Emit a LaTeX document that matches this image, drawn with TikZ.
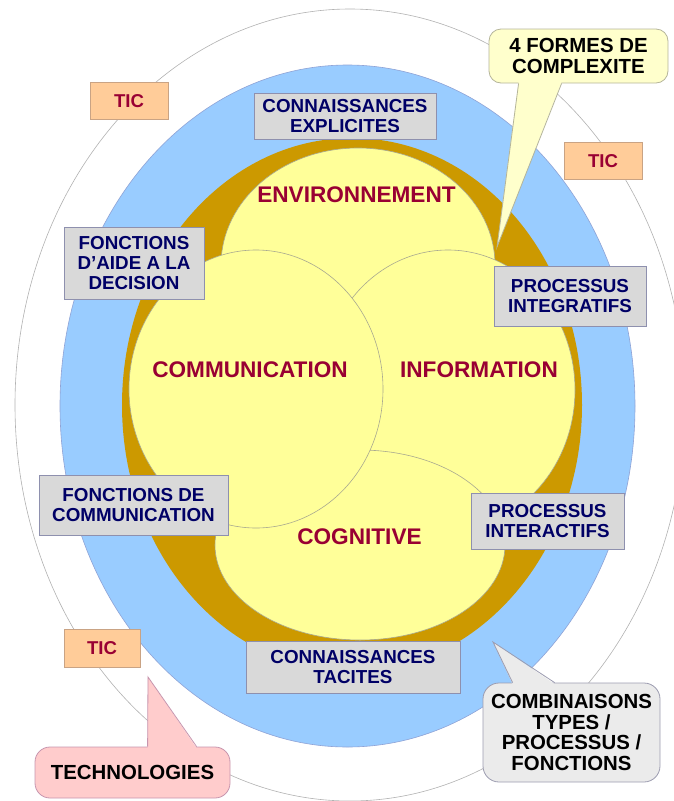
\documentclass[tikz,border=0pt]{standalone}
\usepackage{fontspec}
\setmainfont{Liberation Sans}
\usetikzlibrary{positioning,shapes}

\definecolor{ringBlue}{HTML}{99CCFF}
\definecolor{ringBlueLine}{HTML}{8FA3D6}
\definecolor{ringGold}{HTML}{CC9900}
\definecolor{zoneYellow}{HTML}{FFFF99}
\definecolor{zoneLine}{HTML}{A8A890}
\definecolor{boxGray}{HTML}{D9D9D9}
\definecolor{boxLine}{HTML}{8E90AE}
\definecolor{ticFill}{HTML}{FFCC99}
\definecolor{ticLine}{HTML}{C9A384}
\definecolor{labelRed}{HTML}{990033}
\definecolor{textNavy}{HTML}{000066}
\definecolor{noteYellow}{HTML}{FFFFCC}
\definecolor{noteYellowLine}{HTML}{B5B59A}
\definecolor{noteGray}{HTML}{EBEBEB}
\definecolor{noteGrayLine}{HTML}{9C9CB0}
\definecolor{notePink}{HTML}{FFCCCC}
\definecolor{notePinkLine}{HTML}{C795AE}

\tikzset {
    style Box/.style={
        top color=boxGray,
        bottom color=boxGray,
        draw=boxLine,
        line width=0.8pt,
        rectangle, % Set the shape as a rectangle
        inner sep=0pt,
        text=textNavy,
        font=\bfseries\fontsize{18.8}{19.6}\selectfont,
        align=center,
    },
    style TIC/.style={
        top color=ticFill,
        bottom color=ticFill,
        draw=ticLine,
        line width=0.8pt,
        rectangle, % Set the shape as a rectangle
        inner sep=0pt,
        text=labelRed,
        font=\bfseries\fontsize{18.6}{19.6}\selectfont,
        minimum width=78pt,
        minimum height=37pt,
        align=center,
    },
    style Label/.style={
        text=labelRed,
        font=\bfseries\fontsize{22.6}{24}\selectfont,
        inner sep=0pt,
    },
    style Note/.style={
        rectangle, % Set the shape as a rectangle
        line width=0.8pt,
        inner sep=0pt,
        text=black,
        font=\bfseries\fontsize{20.4}{20.4}\selectfont,
        align=center,
    },
    style Zone/.style={
        fill=zoneYellow,
        draw=zoneLine,
        line width=0.6pt,
    },
}

\begin{document}
\begin{tikzpicture}[x=1pt, y=-1pt]
        \useasboundingbox (0,0) rectangle (674,801);

        % rings
        \draw[fill=white, draw=gray!60, line width=0.6pt] (350,405) ellipse [x radius=335, y radius=396];
        \draw[fill=ringBlue, draw=ringBlueLine, line width=0.6pt] (347.5,406) ellipse [x radius=287.5, y radius=341];
        \fill[ringGold] (352,405) ellipse [x radius=230, y radius=267];

        % four zones
        \draw[style Zone] (358,265) ellipse [x radius=137, y radius=117];
        \draw[style Zone] (448,390) ellipse [x radius=127, y radius=140];
        \draw[style Zone] (360,545) ellipse [x radius=145, y radius=95];
        \draw[style Zone] (256,389) ellipse [x radius=127, y radius=139];

        \node[style Label] at (356.5,195) (environnement) {ENVIRONNEMENT};
        \node[style Label] at (250,370) (communication) {COMMUNICATION};
        \node[style Label] at (479,370) (information) {INFORMATION};
        \node[style Label] at (359.5,537) (cognitive) {COGNITIVE};

        % gray boxes
        \node[style Box, minimum width=182pt, minimum height=46pt] at (345,116) (connExplicites) {CONNAISSANCES\\EXPLICITES};
        \node[style Box, minimum width=140pt, minimum height=72pt] at (134,263) (fonctAide) {FONCTIONS\\D’AIDE A LA\\DECISION};
        \node[style Box, minimum width=152pt, minimum height=60pt] at (570,296) (procIntegratifs) {PROCESSUS\\INTEGRATIFS};
        \node[style Box, minimum width=189pt, minimum height=60pt] at (133.5,505) (fonctComm) {FONCTIONS DE\\COMMUNICATION};
        \node[style Box, minimum width=153pt, minimum height=56pt] at (547.5,521) (procInteractifs) {PROCESSUS\\INTERACTIFS};
        \node[style Box, minimum width=214pt, minimum height=52pt] at (353,667) (connTacites) {CONNAISSANCES\\TACITES};

        \node[style TIC] at (129,101) (ticA) {TIC};
        \node[style TIC] at (603,161) (ticB) {TIC};
        \node[style TIC, minimum width=76pt, minimum height=38pt] at (102,648) (ticC) {TIC};

        % callouts
        \coordinate (tipComplexite) at (497,247);
        \coordinate (tipCombinaisons) at (493,642);
        \coordinate (tipTechnologies) at (148,677);

        \node[style Note, fill=noteYellow, draw=noteYellowLine, rounded corners=12pt,
              minimum width=179pt, minimum height=54pt] at (578.5,56) (complexite) {4 FORMES DE\\COMPLEXITE};
        \fill[noteYellow] ([xshift=30pt, yshift=1.5pt]complexite.south west) -- (tipComplexite) -- ([xshift=73pt, yshift=1.5pt]complexite.south west) -- cycle;
        \draw[noteYellowLine, line width=0.8pt] ([xshift=30pt]complexite.south west) -- (tipComplexite) -- ([xshift=73pt]complexite.south west);

        \node[style Note, fill=noteGray, draw=noteGrayLine, rounded corners=16pt,
              minimum width=177pt, minimum height=99pt] at (571.5,732.5) (combinaisons) {COMBINAISONS\\TYPES /\\PROCESSUS /\\FONCTIONS};
        \fill[noteGray] ([xshift=30pt, yshift=-1.5pt]combinaisons.north west) -- (tipCombinaisons) -- ([xshift=72pt, yshift=-1.5pt]combinaisons.north west) -- cycle;
        \draw[noteGrayLine, line width=0.8pt] ([xshift=30pt]combinaisons.north west) -- (tipCombinaisons) -- ([xshift=72pt]combinaisons.north west);

        \node[style Note, fill=notePink, draw=notePinkLine, rounded corners=15pt,
              minimum width=195pt, minimum height=51pt] at (132.5,772.5) (technologies) {TECHNOLOGIES};
        \fill[notePink] ([xshift=113pt, yshift=-1.5pt]technologies.north west) -- (tipTechnologies) -- ([xshift=162pt, yshift=-1.5pt]technologies.north west) -- cycle;
        \draw[notePinkLine, line width=0.8pt] ([xshift=113pt]technologies.north west) -- (tipTechnologies) -- ([xshift=162pt]technologies.north west);
\end{tikzpicture}
\end{document}
